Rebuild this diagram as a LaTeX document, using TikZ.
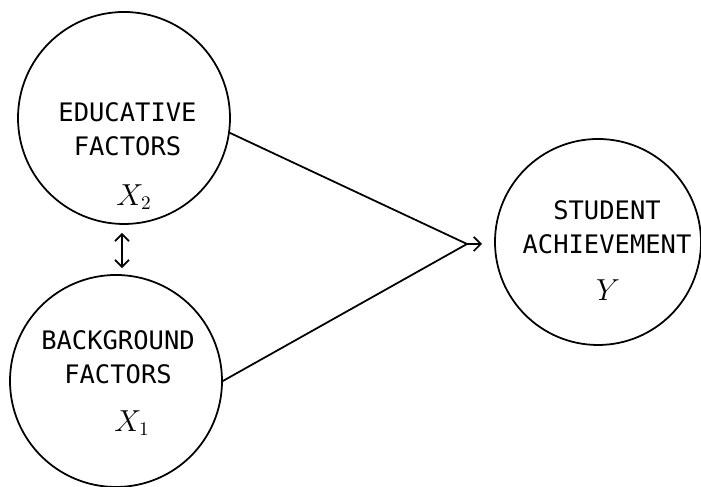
\documentclass[tikz,border=0pt]{standalone}
\usepackage{fontspec}
\setmonofont{DejaVu Sans Mono}
\usetikzlibrary{arrows.meta,positioning,calc}

\begin{document}
\begin{tikzpicture}[
      factor/.style={draw,circle,line width=1pt,minimum size=4.24cm,inner sep=0pt},
      caps/.style={align=center,inner sep=0pt,font=\fontsize{14.5}{19.5}\selectfont\ttfamily},
      var/.style={inner sep=0pt,font=\fontsize{16}{19}\selectfont},
      arr/.style={-{Straight Barb[length=4pt,width=8pt]},line width=1pt},
      dbl/.style={{Straight Barb[length=4pt,width=8pt]}-{Straight Barb[length=4pt,width=8pt]},line width=1pt}
    ]
      \useasboundingbox (0,0) rectangle (14.02,9.74);
      \node[factor] (edu) at (2.48,7.38) {};
      \node[factor] (bkg) at (2.32,2.12) {};
      \node[factor,minimum size=4.12cm] (ach) at (11.96,4.90) {};
      \node[caps] (edutxt) at ($(edu)+(0.07,-0.23)$) {EDUCATIVE\\FACTORS};
      \node[var] (x2) at ($(edu)+(0.20,-1.58)$) {$X_2$};
      \node[caps] (bkgtxt) at ($(bkg)+(0.04,0.48)$) {BACKGROUND\\FACTORS};
      \node[var] (x1) at ($(bkg)+(0.32,-0.84)$) {$X_1$};
      \node[caps] (achtxt) at ($(ach)+(0.18,0.30)$) {STUDENT\\ACHIEVEMENT};
      \node[var] (y) at ($(ach)+(0.20,-0.96)$) {$Y$};
      \coordinate (meet) at (9.34,4.86);
      \coordinate (tip) at (9.64,4.86);
      \draw[line width=1pt] (edu.-8) -- (meet);
      \draw[line width=1pt] (bkg.east) -- (meet);
      \draw[arr] (meet) -- (tip);
      \draw[dbl] ([shift={(-0.04,-0.16)}]edu.south) -- ([shift={(0.12,0.12)}]bkg.north);
    \end{tikzpicture}
\end{document}
